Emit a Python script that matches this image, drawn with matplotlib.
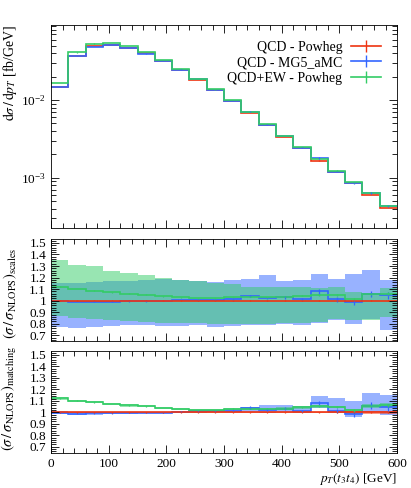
import numpy as np
import matplotlib
matplotlib.use('Agg')
import matplotlib.pyplot as plt
from matplotlib.lines import Line2D
from matplotlib.ticker import MultipleLocator, FuncFormatter

plt.rcParams['font.family'] = ['Liberation Serif', 'DejaVu Serif']
plt.rcParams['mathtext.fontset'] = 'stix'
plt.rcParams['font.size'] = 9.5

# binning of p_T(t3 t4)
edges = np.arange(0, 601, 30)

# QCD - Powheg (reference), dsigma/dpT [fb/GeV]
qcd_powheg = [0.0146, 0.0372, 0.0490, 0.0510, 0.0468, 0.0398, 0.0318, 0.0245, 0.0183, 0.0134,
              0.0096, 0.0068, 0.00472, 0.00334, 0.00240, 0.00166, 0.00118, 0.00086, 0.00060, 0.00041]

# ratios to QCD - Powheg
ratio_mg5 = [0.997, 0.988, 0.990, 0.992, 0.994, 0.995, 0.998, 1.005, 1.008, 1.010,
             1.015, 1.040, 1.020, 1.030, 1.015, 1.082, 1.012, 0.985, 1.058, 1.045]
ratio_ew = [1.121, 1.100, 1.087, 1.072, 1.060, 1.052, 1.037, 1.029, 1.020, 1.020,
            1.030, 1.033, 1.030, 1.033, 1.043, 1.052, 1.046, 1.017, 1.055, 1.062]

# statistical errors on the ratios
err_red = [0.002] * 14 + [0.003, 0.004, 0.005, 0.006, 0.006, 0.007]
err_mg5 = [0.003] * 10 + [0.005, 0.012, 0.006, 0.012, 0.008, 0.020, 0.020, 0.025, 0.028, 0.030]
err_ew = [0.003] * 10 + [0.004, 0.004, 0.005, 0.005, 0.006, 0.008, 0.008, 0.010, 0.010, 0.012]

# scale variation envelopes
scale_ew_up = [1.35, 1.31, 1.30, 1.26, 1.24, 1.22, 1.20, 1.18, 1.17, 1.15,
               1.145, 1.12, 1.115, 1.12, 1.12, 1.11, 1.115, 1.078, 1.07, 1.107]
scale_ew_dn = [0.865, 0.85, 0.845, 0.83, 0.82, 0.815, 0.81, 0.805, 0.805, 0.80,
               0.80, 0.80, 0.80, 0.81, 0.81, 0.815, 0.84, 0.83, 0.83, 0.86]
scale_mg5_up = [1.153, 1.15, 1.16, 1.17, 1.17, 1.18, 1.19, 1.18, 1.17, 1.16,
                1.18, 1.19, 1.225, 1.17, 1.18, 1.235, 1.19, 1.235, 1.27, 1.18]
scale_mg5_dn = [0.77, 0.763, 0.77, 0.78, 0.79, 0.79, 0.78, 0.78, 0.79, 0.77,
                0.78, 0.785, 0.79, 0.80, 0.79, 0.81, 0.835, 0.80, 0.84, 0.745]

# matching uncertainty envelopes
match_red_hw = [0.004] * 15 + [0.006, 0.010, 0.014, 0.014, 0.014]
match_ew_hw = [0.010] * 15 + [0.012, 0.012, 0.012, 0.018, 0.018]
match_mg5_up = [1.008, 1.002, 1.002, 1.004, 1.005, 1.005, 1.006, 1.010, 1.012, 1.016,
                1.032, 1.047, 1.066, 1.066, 1.052, 1.142, 1.122, 1.100, 1.170, 1.155]
match_mg5_dn = [0.988, 0.975, 0.976, 0.985, 0.986, 0.99, 0.99, 0.995, 0.998, 1.000,
                1.000, 1.002, 0.995, 1.000, 0.995, 1.035, 0.990, 0.960, 1.000, 0.975]

RED = '#EE3311'
BLUE = '#3366FF'
GREEN = '#33CC66'

qcd_powheg = np.array(qcd_powheg)
ratio_mg5 = np.array(ratio_mg5)
ratio_ew = np.array(ratio_ew)
ones = np.ones(len(qcd_powheg))
centers = 0.5 * (edges[1:] + edges[:-1])

fig = plt.figure(figsize=(4.11, 4.88), dpi=100)
ax0 = fig.add_axes([0.1241, 0.5328, 0.842, 0.416])
ax1 = fig.add_axes([0.1241, 0.3006, 0.842, 0.2103])
ax2 = fig.add_axes([0.1241, 0.0723, 0.842, 0.2091])


def style(ax):
    ax.set_xlim(0, 600)
    ax.xaxis.set_major_locator(MultipleLocator(100))
    ax.xaxis.set_minor_locator(MultipleLocator(20))
    ax.tick_params(which='both', direction='in', top=True, right=True, width=0.6)
    ax.tick_params(which='major', length=6)
    ax.tick_params(which='minor', length=3.5)
    for sp in ax.spines.values():
        sp.set_linewidth(0.6)


# main panel
series = [(qcd_powheg, err_red, RED), (qcd_powheg * ratio_mg5, err_mg5, BLUE),
          (qcd_powheg * ratio_ew, err_ew, GREEN)]
for vals, err, c in series:
    ax0.stairs(vals, edges, baseline=None, color=c, lw=1.2)
    ax0.errorbar(centers, vals, yerr=np.array(err) * vals, fmt='none', ecolor=c, elinewidth=0.9)
ax0.set_yscale('log')
ax0.set_ylim(2.25e-4, 0.0923)
style(ax0)
ax0.set_xticklabels([])
ax0.set_ylabel(r'$\mathrm{d}\sigma\,/\,\mathrm{d}p_T$ [fb/GeV]', loc='top', fontsize=10)
ax0.yaxis.set_label_coords(-0.093, 1.0)

handles = [Line2D([], [], color=c, lw=1.2, marker='|', markersize=9, markeredgewidth=1)
           for c in (RED, BLUE, GREEN)]
ax0.legend(handles, ['QCD - Powheg', 'QCD - MG5_aMC', 'QCD+EW - Powheg'],
           loc='upper right', bbox_to_anchor=(0.99, 0.985), frameon=False, markerfirst=False,
           handlelength=2.2, handletextpad=0.6, labelspacing=0.2, fontsize=10)


def ratio_lines(ax):
    ax.stairs(ratio_mg5, edges, baseline=None, color=BLUE, lw=1.2)
    ax.errorbar(centers, ratio_mg5, yerr=err_mg5, fmt='none', ecolor=BLUE, elinewidth=0.9)
    ax.stairs(ratio_ew, edges, baseline=None, color=GREEN, lw=1.2)
    ax.errorbar(centers, ratio_ew, yerr=err_ew, fmt='none', ecolor=GREEN, elinewidth=0.9)
    ax.stairs(ones, edges, baseline=None, color=RED, lw=1.2)
    ax.errorbar(centers, ones, yerr=err_red, fmt='none', ecolor=RED, elinewidth=0.9)


def ratio_style(ax, label):
    style(ax)
    ax.set_ylim(0.648, 1.537)
    ax.yaxis.set_major_locator(MultipleLocator(0.1))
    ax.yaxis.set_minor_locator(MultipleLocator(0.02))
    ax.yaxis.set_major_formatter(FuncFormatter(lambda v, p: '%g' % round(v, 2)))
    ax.set_ylabel(label, loc='bottom', fontsize=10.5)
    ax.yaxis.set_label_coords(-0.093, 0.02)


# scales panel
ax1.stairs(scale_mg5_up, edges, baseline=scale_mg5_dn, fill=True, color=BLUE, alpha=0.5, lw=0)
ax1.stairs(scale_ew_up, edges, baseline=scale_ew_dn, fill=True, color=GREEN, alpha=0.5, lw=0)
ratio_lines(ax1)
ratio_style(ax1, r'$(\sigma\,/\,\sigma_\mathrm{NLOPS})_\mathrm{scales}$')
ax1.set_xticklabels([])

# matching panel
ax2.stairs(match_mg5_up, edges, baseline=match_mg5_dn, fill=True, color=BLUE, alpha=0.5, lw=0)
ax2.stairs(ratio_ew + match_ew_hw, edges, baseline=ratio_ew - match_ew_hw, fill=True,
           color=GREEN, alpha=0.5, lw=0)
ax2.stairs(ones + match_red_hw, edges, baseline=ones - match_red_hw, fill=True,
           color=RED, alpha=0.5, lw=0)
ratio_lines(ax2)
ratio_style(ax2, r'$(\sigma\,/\,\sigma_\mathrm{NLOPS})_\mathrm{matching}$')
ax2.set_xlabel(r'$p_T(t_3t_4)$ [GeV]', loc='right', labelpad=1, fontsize=9.5)

fig.savefig('out.png', dpi=100)
